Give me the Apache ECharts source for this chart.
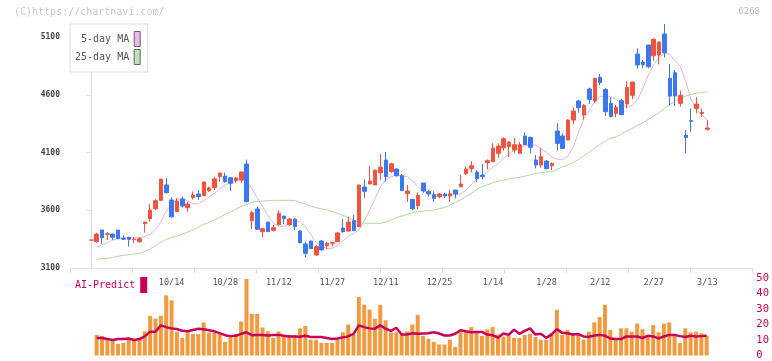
<!DOCTYPE html>
<html>
<head>
<meta charset="utf-8">
<script src="https://cdn.jsdelivr.net/npm/echarts@6.0.0/dist/echarts.min.js"></script>
<style>
html,body{margin:0;padding:0;background:#fff;}
#chart{width:772px;height:361px;}
</style>
</head>
<body>
<div id="chart"></div>
<script>
// ---- data ----
const labelIdx = [15, 25, 35, 45, 55, 65, 75, 85, 95, 105, 115];
const labelText = ['10/14', '10/28', '11/12', '11/27', '12/11', '12/25', '1/14', '1/28', '2/12', '2/27', '3/13'];
const priceTicks = [3100, 3600, 4100, 4600, 5100];

const open = [3342,3328,3429,3392,3394,3429,3357,3366,3346,3328,3484,3527,3614,3686,3819,3689,3588,3697,3622,3709,
3741,3726,3769,3796,3891,3896,3882,3856,3862,4000,3510,3611,3415,3498,3426,3475,3550,3475,3524,3420,
3308,3334,3213,3334,3293,3314,3328,3446,3420,3510,3458,3801,3827,3819,3925,4035,3934,3957,3899,3744,
3694,3640,3836,3761,3735,3717,3741,3723,3775,3804,3917,3960,3931,3905,4012,4020,4093,4142,4150,4122,
4093,4243,4231,4035,3992,4026,3986,4286,4243,4208,4381,4546,4425,4650,4546,4751,4647,4526,4439,4549,
4520,4595,4953,4884,5031,4938,4944,5126,4742,4791,4526,4251,4376,4482,4439,4301];
const close = [3342,3394,3363,3397,3366,3354,3349,3348,3351,3354,3498,3602,3683,3870,3752,3544,3680,3637,3654,3732,
3718,3845,3793,3871,3923,3847,3833,3879,3931,3674,3579,3435,3441,3415,3449,3573,3527,3524,3458,3319,
3227,3267,3285,3256,3314,3320,3403,3415,3498,3423,3819,3764,3853,3948,3972,3891,4003,3899,3770,3767,
3614,3729,3767,3741,3703,3741,3723,3743,3741,3827,3957,3986,3873,3891,4029,4139,4156,4220,4191,4168,
4168,4168,4145,3992,4064,3960,4006,4179,4136,4381,4459,4488,4508,4560,4742,4707,4454,4410,4491,4428,
4664,4710,4858,4861,4843,5080,5057,4964,4589,4589,4595,4231,4370,4520,4448,4312];
const high = [3342,3406,3432,3412,3394,3429,3383,3369,3371,3366,3498,3654,3694,3870,3879,3712,3706,3717,3674,3764,
3775,3848,3807,3891,3923,3925,3882,3885,3934,4038,3595,3631,3441,3498,3472,3598,3550,3530,3530,3429,
3328,3334,3299,3342,3328,3325,3409,3524,3547,3560,3819,3868,3983,3948,4087,4105,4012,3963,3914,3820,
3694,3756,3836,3778,3764,3749,3752,3775,3775,3905,3977,4026,3948,4000,4041,4179,4179,4231,4197,4226,
4191,4272,4237,4078,4136,4035,4015,4353,4266,4387,4491,4555,4520,4661,4742,4780,4656,4578,4511,4566,
4716,4710,5002,4901,5031,5088,5062,5213,4866,4814,4635,4295,4482,4578,4482,4381];
const low = [3342,3319,3310,3342,3342,3354,3342,3285,3314,3319,3406,3501,3602,3680,3746,3535,3588,3625,3588,3694,
3689,3723,3758,3775,3847,3839,3767,3839,3839,3668,3436,3429,3364,3415,3415,3467,3480,3464,3429,3314,
3192,3267,3204,3256,3262,3285,3325,3406,3415,3423,3455,3705,3827,3819,3864,3847,3925,3891,3770,3674,
3602,3611,3752,3718,3674,3703,3706,3674,3703,3798,3905,3928,3847,3868,3954,4020,4055,4116,4058,4093,
4093,4168,4093,3963,3969,3954,3948,4116,4136,4208,4347,4445,4387,4520,4526,4684,4416,4410,4404,4428,
4482,4563,4826,4829,4829,4895,4863,4924,4511,4503,4497,4093,4280,4439,4410,4289];
const ma5 = [null,3279,3302,3319,3342,3354,3363,3363,3363,3363,3371,3394,3435,3501,3593,3654,3694,3703,3683,3657,
3657,3683,3715,3746,3787,3819,3839,3853,3862,3845,3787,3709,3631,3550,3487,3461,3461,3487,3507,3504,
3458,3386,3319,3285,3270,3270,3299,3335,3375,3400,3430,3516,3602,3703,3804,3868,3891,3905,3900,3890,
3853,3804,3767,3746,3735,3732,3732,3732,3735,3741,3775,3827,3870,3900,3935,3975,4006,4052,4087,4122,
4142,4162,4165,4165,4136,4099,4058,4041,4041,4070,4150,4280,4396,4468,4540,4583,4595,4583,4560,4520,
4491,4511,4560,4656,4771,4858,4924,4959,4950,4895,4843,4713,4555,4474,4425,4381];
const ma25 = [null,3175,3181,3184,3192,3201,3210,3215,3221,3227,3244,3267,3293,3325,3348,3366,3377,3392,3412,3432,
3452,3478,3495,3518,3539,3565,3585,3608,3634,3651,3669,3677,3680,3683,3686,3686,3686,3686,3683,3666,
3651,3637,3622,3611,3602,3591,3573,3556,3536,3513,3493,3487,3487,3487,3487,3498,3516,3539,3550,3562,
3579,3588,3594,3596,3602,3614,3625,3645,3669,3692,3720,3749,3781,3807,3821,3839,3853,3862,3871,3879,
3885,3897,3908,3920,3925,3931,3934,3957,3977,3992,4015,4041,4073,4104,4139,4171,4202,4226,4237,4260,
4286,4309,4335,4358,4387,4416,4445,4480,4514,4546,4569,4589,4604,4615,4621,4624];
const volume = [null,13.3,12.7,10.6,10.2,7.5,8.1,10.2,10.2,10.6,15.6,25.6,23.8,25.6,38.8,35.6,15.4,11.3,15,13.8,
13.8,21.3,14.8,14.8,14,8.8,11.9,13.8,21.9,49.4,26.9,26.9,18.1,15.6,11.3,15.6,13.3,13.3,13.3,17.5,
19,10.2,10.2,8.1,8.1,8.1,10.2,15,20,13.8,37.7,32.7,29.6,23.8,32.7,22.7,15,15,13.3,15.6,
20,26.3,12.7,10.8,8.8,7.1,7.1,10.2,5.6,15,15.8,18.3,14.8,12.7,16.9,18.3,13.5,12.1,12.7,11.3,
11.3,13.3,14,11.9,10.2,10.2,14.4,29.5,13.3,16.5,13.3,13.3,10.2,15.4,21.3,24.8,32.7,16.5,10.2,17.5,
17.5,15.4,20.6,16.9,13.3,19.6,15,20.6,21.3,13.3,8.1,17.5,15,15.4,14.4,12.7];
const aiPredict = [null,11.3,11.3,10.6,10.0,10.6,10.6,11.0,10.0,10.6,12.3,15.4,15.4,19.4,18.3,17.5,17.1,15.9,15.6,16.5,
17.3,16.9,16.3,15.6,14.4,13.1,12.5,12.7,14.0,15.0,13.1,13.3,13.3,12.9,13.3,13.3,12.7,12.3,12.3,12.1,
12.7,11.9,11.9,11.9,11.3,10.6,11.0,11.7,12.3,14.0,19.4,18.3,17.5,17.3,19.4,17.3,15.9,17.9,13.5,13.5,
14.4,14.0,14.2,14.4,15.0,14.2,12.9,12.9,14.0,16.3,15.6,15.0,15.2,15.2,13.5,13.1,11.5,14.2,13.3,16.7,
14.0,15.9,17.5,13.5,14.0,11.4,13.5,17.0,14.6,14.4,13.5,13.8,12.3,12.1,12.9,13.3,12.7,11.0,10.6,10.6,
12.3,12.3,12.3,11.3,12.7,12.3,11.0,12.3,13.3,13.3,12.5,11.9,12.7,12.3,12.5,12.7];

// ---- build ----
const UP = '#f2533f', DOWN = '#3b78ee';
const MONO = '"DejaVu Sans Mono", "Liberation Mono", monospace';
const candles = open.map((o, i) => [i, o, close[i], low[i], high[i]]);
const withIdx = arr => arr.map((v, i) => [i, v]);
const xMin = -3.976, xMax = 123.35;

const chart = echarts.init(document.getElementById('chart'), null, {renderer: 'canvas'});
chart.setOption({
  animation: false,
  backgroundColor: '#fff',
  graphic: [
    {type: 'text', left: 14, top: 7, style: {text: '(C)https://chartnavi.com/', fill: '#c8c8c8', font: '10px ' + MONO}},
    {type: 'text', right: 12, top: 7, style: {text: '6268', fill: '#bdbdbd', font: '9px ' + MONO}}
  ],
  legend: [
    {
      data: ['5-day MA', '25-day MA'], orient: 'vertical', align: 'right',
      left: 70, top: 24, padding: [7, 7, 7, 5], itemGap: 2, itemWidth: 6, itemHeight: 15,
      icon: 'rect', backgroundColor: '#fff', borderColor: '#ddd', borderWidth: 1,
      itemStyle: {borderColor: '#666', borderWidth: 1},
      textStyle: {color: '#555', fontSize: 10, fontFamily: MONO}, selectedMode: false
    },
    {
      data: ['AI-Predict'], orient: 'vertical', align: 'right',
      left: 75, top: 277, padding: 0, itemWidth: 7, itemHeight: 16, icon: 'rect',
      itemStyle: {borderWidth: 0},
      textStyle: {color: '#c8005a', fontSize: 10, fontFamily: MONO}, selectedMode: false
    }
  ],
  grid: [
    {left: 70, right: 20, top: 24, bottom: 93},
    {left: 70, right: 20, top: 278, bottom: 3}
  ],
  xAxis: [
    {
      type: 'value', gridIndex: 0, min: xMin, max: xMax, position: 'bottom',
      axisLine: {show: false}, axisTick: {show: false}, splitLine: {show: false},
      axisLabel: {
        customValues: labelIdx, margin: 10, color: '#555', fontSize: 8.5, fontFamily: MONO,
        formatter: v => { const k = labelIdx.indexOf(Math.round(v)); return k >= 0 ? labelText[k] : ''; }
      }
    },
    {
      type: 'value', gridIndex: 0, min: 0, max: 11, interval: 1, position: 'bottom',
      axisLine: {show: true, lineStyle: {color: '#dddddd'}},
      axisTick: {show: true, length: 5, lineStyle: {color: '#dddddd'}},
      axisLabel: {show: false}, splitLine: {show: false}
    },
    {
      type: 'value', gridIndex: 1, min: xMin, max: xMax, show: false
    }
  ],
  yAxis: [
    {
      type: 'value', gridIndex: 0, min: 3100, max: 'dataMax', position: 'left',
      axisLine: {show: true, lineStyle: {color: '#dddddd'}},
      axisTick: {show: true, length: 5, customValues: priceTicks, lineStyle: {color: '#dddddd'}},
      axisLabel: {customValues: priceTicks, margin: 10, color: '#444', fontSize: 8, fontWeight: 'bold', fontFamily: MONO,
        formatter: v => String(Math.round(v))},
      splitLine: {show: false}
    },
    {
      type: 'value', gridIndex: 1, min: 0, max: 50, interval: 10, position: 'right',
      axisLine: {show: false}, axisTick: {show: false}, splitLine: {show: false},
      axisLabel: {margin: 5, color: '#c8005a', fontSize: 10.5, fontFamily: MONO}
    },
    {
      type: 'value', gridIndex: 1, min: 0, max: 50, show: false
    }
  ],
  series: [
    {
      name: 'price', type: 'candlestick', xAxisIndex: 0, yAxisIndex: 0, barWidth: 4,
      itemStyle: {color: UP, color0: DOWN, borderColor: UP, borderColor0: DOWN, borderColorDoji: UP, borderWidth: 1},
      data: candles
    },
    {
      name: '5-day MA', type: 'line', xAxisIndex: 0, yAxisIndex: 0, showSymbol: false,
      color: '#eab8ea', lineStyle: {color: '#e6b2e6', width: 1}, data: withIdx(ma5), z: 1
    },
    {
      name: '25-day MA', type: 'line', xAxisIndex: 0, yAxisIndex: 0, showSymbol: false,
      color: '#bfe0b0', lineStyle: {color: '#b2d9a0', width: 1}, data: withIdx(ma25), z: 1
    },
    {
      name: 'volume', type: 'bar', xAxisIndex: 2, yAxisIndex: 2, barWidth: 4,
      itemStyle: {color: '#f29a3f'}, data: withIdx(volume)
    },
    {
      name: 'AI-Predict', type: 'line', xAxisIndex: 2, yAxisIndex: 1, showSymbol: false,
      color: '#c8005a', lineStyle: {color: '#c8005a', width: 2.5}, data: withIdx(aiPredict), z: 5
    }
  ]
});
</script>
</body>
</html>
